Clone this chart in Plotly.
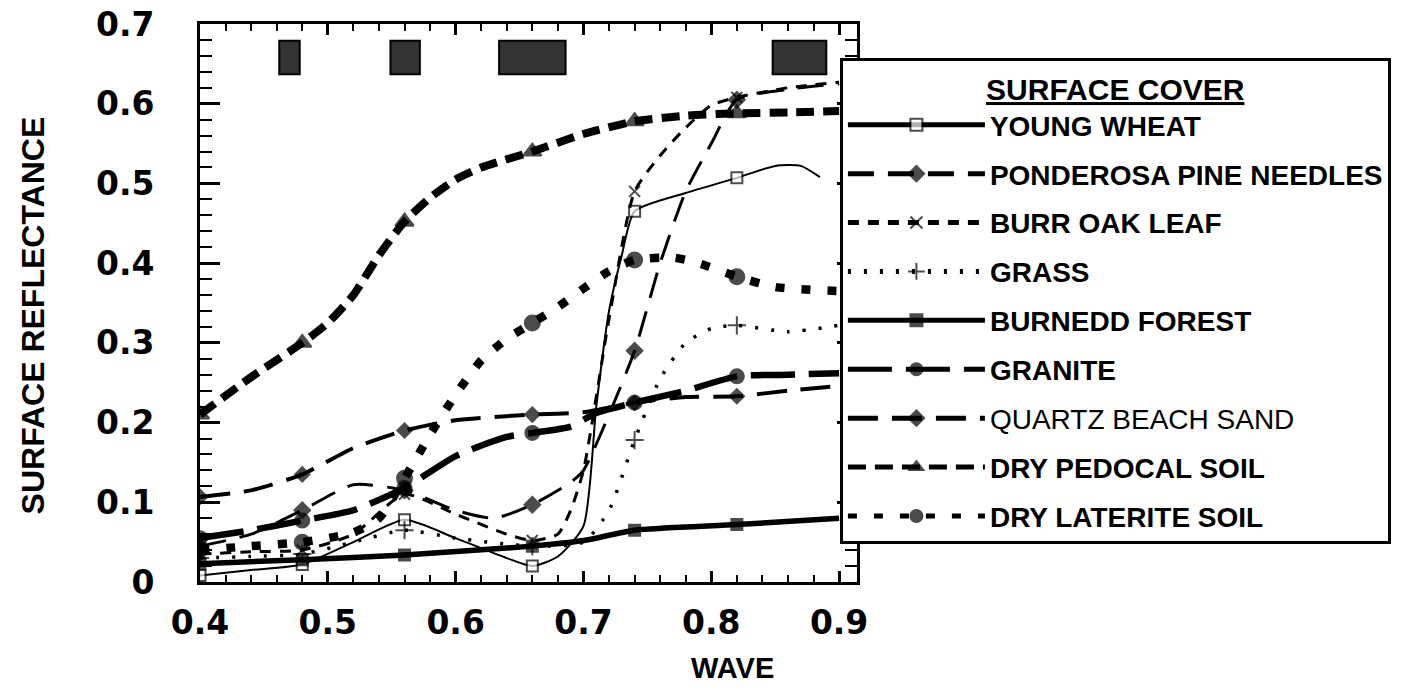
import plotly.graph_objects as go

# ---------------- data ----------------
MARK_WL = [0.40, 0.48, 0.56, 0.66, 0.74, 0.82]

WL_YW = [0.40, 0.44, 0.48, 0.52, 0.56, 0.60, 0.64, 0.66, 0.68, 0.70, 0.71, 0.72, 0.73, 0.74, 0.78, 0.82, 0.85, 0.87, 0.885]
R_YW = [0.008, 0.015, 0.022, 0.050, 0.078, 0.055, 0.030, 0.020, 0.032, 0.070, 0.22, 0.34, 0.41, 0.465, 0.488, 0.507, 0.522, 0.522, 0.508]

WL_PP = [0.40, 0.44, 0.48, 0.52, 0.56, 0.60, 0.63, 0.66, 0.69, 0.70, 0.72, 0.74, 0.76, 0.78, 0.80, 0.82, 0.86, 0.90]
R_PP = [0.045, 0.060, 0.090, 0.122, 0.115, 0.090, 0.080, 0.097, 0.125, 0.140, 0.210, 0.290, 0.400, 0.490, 0.550, 0.605, 0.618, 0.625]

WL_BO = [0.40, 0.44, 0.48, 0.52, 0.56, 0.60, 0.64, 0.66, 0.68, 0.69, 0.70, 0.72, 0.74, 0.76, 0.78, 0.80, 0.82, 0.86, 0.90]
R_BO = [0.035, 0.038, 0.040, 0.060, 0.110, 0.085, 0.060, 0.052, 0.060, 0.090, 0.140, 0.330, 0.490, 0.535, 0.570, 0.598, 0.608, 0.620, 0.627]

WL_GR = [0.40, 0.44, 0.48, 0.52, 0.56, 0.60, 0.66, 0.70, 0.72, 0.74, 0.76, 0.78, 0.80, 0.82, 0.86, 0.90]
R_GR = [0.030, 0.032, 0.035, 0.050, 0.065, 0.055, 0.045, 0.050, 0.090, 0.178, 0.255, 0.300, 0.318, 0.322, 0.314, 0.322]

WL_BF = [0.40, 0.48, 0.56, 0.66, 0.70, 0.74, 0.82, 0.90]
R_BF = [0.023, 0.028, 0.034, 0.045, 0.052, 0.065, 0.072, 0.080]

WL_GN = [0.40, 0.44, 0.48, 0.52, 0.56, 0.60, 0.64, 0.66, 0.69, 0.71, 0.74, 0.78, 0.82, 0.86, 0.90]
R_GN = [0.055, 0.065, 0.077, 0.090, 0.118, 0.158, 0.182, 0.187, 0.195, 0.212, 0.225, 0.240, 0.258, 0.260, 0.262]

WL_QS = [0.40, 0.44, 0.48, 0.52, 0.56, 0.60, 0.66, 0.70, 0.74, 0.78, 0.82, 0.86, 0.90]
R_QS = [0.107, 0.115, 0.135, 0.168, 0.190, 0.203, 0.210, 0.213, 0.225, 0.232, 0.233, 0.240, 0.246]

WL_PD = [0.40, 0.44, 0.48, 0.50, 0.52, 0.54, 0.56, 0.58, 0.60, 0.62, 0.66, 0.70, 0.74, 0.78, 0.82, 0.86, 0.90]
R_PD = [0.210, 0.257, 0.300, 0.325, 0.360, 0.410, 0.452, 0.482, 0.505, 0.520, 0.540, 0.562, 0.578, 0.585, 0.588, 0.589, 0.591]

WL_LT = [0.40, 0.44, 0.48, 0.52, 0.54, 0.56, 0.58, 0.60, 0.62, 0.64, 0.66, 0.68, 0.70, 0.72, 0.74, 0.77, 0.79, 0.82, 0.85, 0.90]
R_LT = [0.040, 0.045, 0.050, 0.062, 0.080, 0.130, 0.185, 0.235, 0.278, 0.305, 0.325, 0.345, 0.368, 0.390, 0.404, 0.407, 0.400, 0.383, 0.370, 0.365]

SERIES = ["YOUNG WHEAT", "PONDEROSA PINE NEEDLES", "BURR OAK LEAF", "GRASS",
          "BURNEDD FOREST", "GRANITE", "QUARTZ BEACH SAND", "DRY PEDOCAL SOIL",
          "DRY LATERITE SOIL"]

BAND_LO = [0.462, 0.549, 0.634, 0.848]
BAND_HI = [0.478, 0.572, 0.686, 0.890]
BAND_BOTTOM, BAND_TOP = 0.637, 0.679

X_TICKS = [0.4, 0.5, 0.6, 0.7, 0.8, 0.9]
Y_TICKS = [0, 0.1, 0.2, 0.3, 0.4, 0.5, 0.6, 0.7]

# ---------------- styles ----------------
STYLE = {
    "YOUNG WHEAT": dict(w=2, dash="solid", sym="square", msize=11, mcol="white", bold=True),
    "PONDEROSA PINE NEEDLES": dict(w=3, dash="26px,14px", sym="diamond", msize=12, mcol="black", bold=True),
    "BURR OAK LEAF": dict(w=3, dash="11px,9px", sym="x-thin-open", msize=11, mcol="black", bold=True),
    "GRASS": dict(w=3.5, dash="3px,13px", sym="cross-thin-open", msize=13, mcol="black", bold=True),
    "BURNEDD FOREST": dict(w=5.5, dash="solid", sym="square", msize=11, mcol="black", bold=True),
    "GRANITE": dict(w=6.5, dash="44px,14px", sym="circle", msize=14, mcol="black", bold=True),
    "QUARTZ BEACH SAND": dict(w=4, dash="30px,14px", sym="diamond", msize=11, mcol="black", bold=False),
    "DRY PEDOCAL SOIL": dict(w=8, dash="18px,9px", sym="triangle-up", msize=16, mcol="black", bold=True),
    "DRY LATERITE SOIL": dict(w=8.5, dash="9px,17px", sym="circle", msize=15, mcol="black", bold=True),
}

DATA = {
    "YOUNG WHEAT": (WL_YW, R_YW),
    "PONDEROSA PINE NEEDLES": (WL_PP, R_PP),
    "BURR OAK LEAF": (WL_BO, R_BO),
    "GRASS": (WL_GR, R_GR),
    "BURNEDD FOREST": (WL_BF, R_BF),
    "GRANITE": (WL_GN, R_GN),
    "QUARTZ BEACH SAND": (WL_QS, R_QS),
    "DRY PEDOCAL SOIL": (WL_PD, R_PD),
    "DRY LATERITE SOIL": (WL_LT, R_LT),
}

fig = go.Figure()

for name in SERIES:
    wl, r = DATA[name]
    st = STYLE[name]
    sizes = [st["msize"] if any(abs(v - m) < 1e-6 for m in MARK_WL) else 0 for v in wl]
    label = f"<b>{name}</b>" if st["bold"] else name
    fig.add_trace(go.Scatter(
        x=wl, y=r, name=label, legendgroup=name,
        mode="lines+markers",
        line=dict(color="black", width=st["w"], dash=st["dash"], shape="spline", smoothing=0.6),
        marker=dict(symbol=st["sym"], size=sizes, color=st["mcol"],
                    line=dict(color="black", width=2)),
        hoverinfo="skip",
    ))

# spectral band markers along the top
for lo, hi in zip(BAND_LO, BAND_HI):
    fig.add_shape(type="rect", xref="x", yref="y", x0=lo, x1=hi,
                  y0=BAND_BOTTOM, y1=BAND_TOP,
                  fillcolor="#333333", line=dict(color="black", width=2))

axis_common = dict(
    showline=True, linecolor="black", linewidth=3, mirror="ticks",
    ticks="inside", tickcolor="black", tickwidth=2.5,
    showgrid=False, zeroline=False, automargin=False,
    tickfont=dict(family="DejaVu Sans", size=33, color="black", weight="bold"),
)

fig.update_xaxes(range=[0.4, 0.914], tickvals=X_TICKS, ticklen=11,
                 ticklabelstandoff=9,
                 minor=dict(dtick=0.02, tick0=0.4, ticks="inside", ticklen=7,
                            tickwidth=2, tickcolor="black"),
                 **axis_common)
fig.update_yaxes(range=[0, 0.7], tickvals=Y_TICKS, ticklen=20,
                 ticklabelstandoff=36,
                 minor=dict(dtick=0.02, tick0=0, ticks="inside", ticklen=12,
                            tickwidth=2, tickcolor="black"),
                 **axis_common)

fig.add_annotation(text="<b>SURFACE REFLECTANCE</b>", xref="paper", yref="paper",
                   x=-0.254, y=0.478, xanchor="center", yanchor="middle",
                   textangle=-90, showarrow=False,
                   font=dict(family="Liberation Sans", size=32, color="black"))
fig.add_annotation(text="<b>WAVE</b>", xref="paper", yref="paper",
                   x=0.81, y=-0.154, xanchor="center", yanchor="middle",
                   showarrow=False,
                   font=dict(family="Liberation Sans", size=29, color="black"))

fig.update_layout(
    width=1405, height=691,
    margin=dict(l=200, r=548, t=24, b=109, autoexpand=False),
    paper_bgcolor="white", plot_bgcolor="white",
    showlegend=True,
    legend=dict(
        x=0.974, y=0.939, xanchor="left", yanchor="top",
        bgcolor="white", bordercolor="black", borderwidth=3,
        font=dict(family="Liberation Sans", size=28, color="black"),
        title=dict(text="<b><u>SURFACE COVER</u></b>", side="top center",
                   font=dict(family="Liberation Sans", size=30, color="black")),
        itemwidth=137, itemsizing="constant",
        traceorder="grouped", tracegroupgap=9.5,
    ),
)

fig.write_html("out.html", config={"displayModeBar": False},
               post_script="document.body.style.margin='0';")
